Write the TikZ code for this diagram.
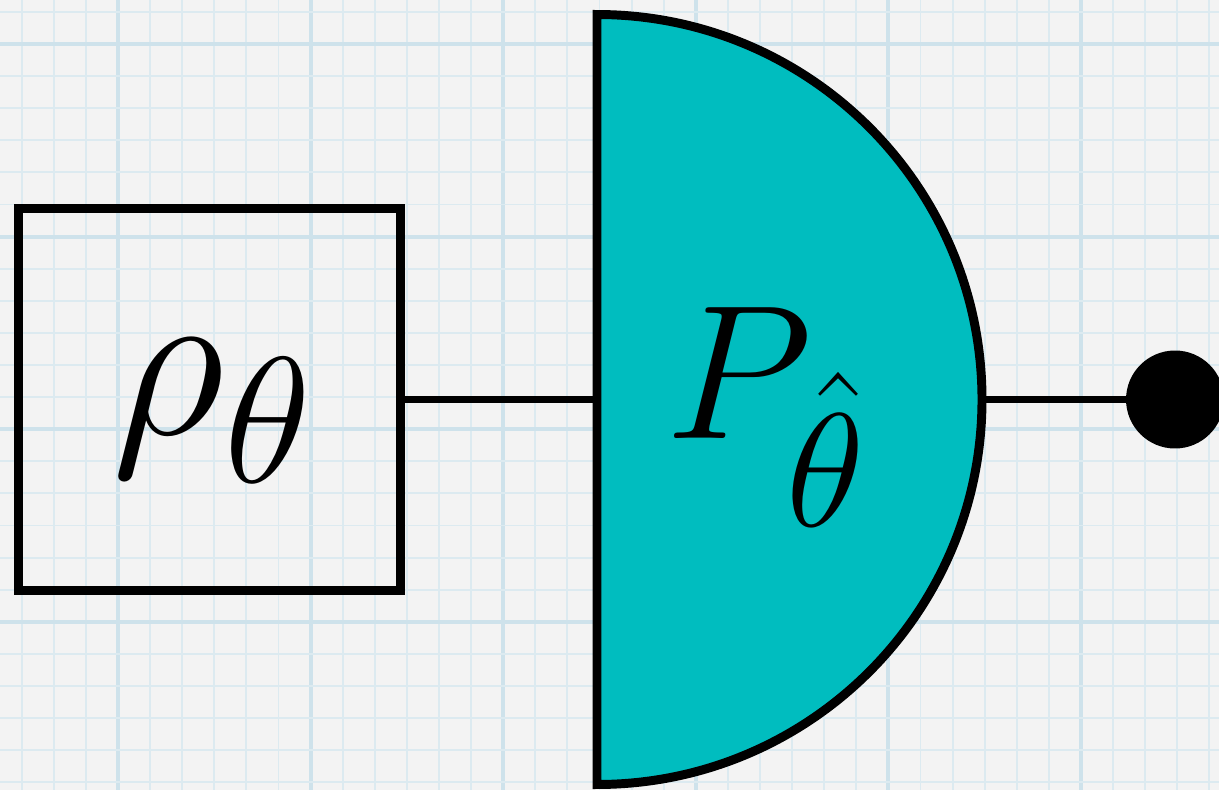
\RequirePackage{fix-cm}
\documentclass[tikz,border=0pt]{standalone}
\usepackage{amsmath}
\usepackage{xcolor}
\usepackage{tikz}
\usetikzlibrary{positioning, calc}
\DeclareMathSizes{126}{126}{102}{80}
\DeclareMathSizes{109}{109}{92}{70}
\definecolor{paper}{RGB}{243, 243, 243}
\definecolor{gridminor}{RGB}{220, 234, 240}
\definecolor{gridmajor}{RGB}{206, 226, 235}
\definecolor{measfill}{RGB}{0, 189, 191}
\tikzset{
  x=0.02cm, y=0.02cm,
  stateblock/.style={
    rectangle, draw=black, line width=5.1pt, line join=miter,
    minimum width=7.66cm, minimum height=7.66cm, inner sep=0pt
  },
  measblock/.style={
    draw=black, fill=measfill, line width=5.1pt, line join=miter
  },
  wireline/.style={draw=black, line width=4.5pt},
  outdot/.style={circle, fill=black, minimum size=1.96cm, inner sep=0pt},
  minorline/.style={draw=gridminor, line width=1.1pt},
  majorline/.style={draw=gridmajor, line width=2.2pt}
}

\begin{document}
\begin{tikzpicture}

  % Graph paper
  \fill[paper] (0,0) rectangle (1219,-790);
  \useasboundingbox (0,0) rectangle (1219,-790);
  \begin{scope}
    \clip (0,0) rectangle (1219,-790);
    \foreach \k in {-3,...,34} {
      \pgfmathsetmacro{\gx}{118+32.1*\k}
      \pgfmathtruncatemacro{\gm}{mod(\k+30,6)}
      \ifnum\gm=0
        \draw[majorline] (\gx,0) -- (\gx,-790);
      \else
        \draw[minorline] (\gx,0) -- (\gx,-790);
      \fi
    }
    \foreach \k in {-1,...,23} {
      \pgfmathsetmacro{\gy}{44+32.1*\k}
      \pgfmathtruncatemacro{\gm}{mod(\k+30,6)}
      \ifnum\gm=0
        \draw[majorline] (0,-\gy) -- (1219,-\gy);
      \else
        \draw[minorline] (0,-\gy) -- (1219,-\gy);
      \fi
    }
  \end{scope}

  % State preparation
  \node[stateblock] (rho) at (209.5,-399.5) {};
  \node[anchor=base west, inner sep=0pt] (rholabel) at (112,-434)
    {\fontsize{126}{130}\selectfont$\rho_{\theta}$};

  % Measurement
  \coordinate (measin) at (597,-399.5);
  \coordinate (measout) at (982,-399.5);
  \draw[measblock] (597,-14.5) arc[start angle=90, end angle=-90, radius=385] -- cycle;
  \node[anchor=base west, inner sep=0pt] (measlabel) at (665,-438)
    {\fontsize{109}{112}\selectfont$P_{\hat{\theta}}$};

  % Outcome
  \node[outdot] (outcome) at (1175,-399.5) {};

  \draw[wireline] (rho.east) -- (measin);
  \draw[wireline] (measout) -- (outcome);
\end{tikzpicture}
\end{document}
